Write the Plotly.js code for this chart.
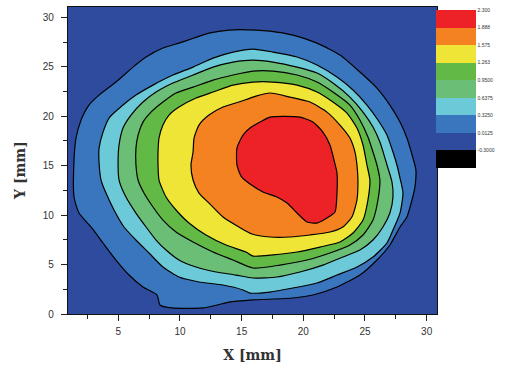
<!DOCTYPE html>
<html>
<head>
<meta charset="utf-8">
<script src="https://cdn.plot.ly/plotly-3.0.1.min.js"></script>
<style>html,body{margin:0;padding:0;background:#fff;}#chart{width:507px;height:367px;}</style>
</head>
<body>
<div id="chart"></div>
<script>
// Legend level labels (top to bottom) and band colours (bottom to top)
const levelLabels = ["2.300","1.888","1.575","1.263","0.9500","0.6375","0.3250","0.0125","-0.3000"];
const bandColors = ["#000000","#2e4b9e","#3a76bd","#6ccad8","#6bbe75","#63b946","#eee537","#f58220","#ec2227"];

// Contour boundaries (X [mm], Y [mm])
const c1x = [13.97,16.16,17.30,19.16,21.11,22.97,24.59,25.97,27.02,27.84,28.40,28.89,29.13,29.05,28.81,28.40,27.84,27.02,25.97,24.59,22.73,20.78,19.16,15.92,13.97,13.00,11.87,9.35,8.38,8.14,7.00,5.87,4.81,3.76,2.79,1.81,1.41,1.41,1.57,1.98,2.62,3.44,4.81,6.19,7.25,8.62,9.92,11.14,12.35];
const c1y = [28.72,28.72,28.62,28.21,27.40,26.19,24.47,22.85,21.13,19.41,17.80,15.78,14.56,12.84,11.53,9.81,8.80,6.98,5.46,3.94,2.73,1.92,1.62,1.42,1.21,0.91,0.61,0.61,0.91,1.92,2.73,3.94,5.46,7.18,8.80,10.21,11.83,15.57,17.80,19.62,21.13,22.14,23.46,24.97,25.99,26.90,27.40,27.91,28.41];

const c2x = [12.68,14.30,15.92,17.54,19.49,21.11,22.73,24.03,25.16,26.05,26.78,27.27,27.59,27.84,28.08,27.84,27.27,26.78,25.65,24.35,22.73,21.11,19.16,17.30,15.68,15.11,13.49,11.54,9.92,8.62,7.49,6.43,5.46,4.65,4.00,3.60,3.44,3.44,3.76,4.25,5.38,6.43,7.81,9.43,11.06];
const c2y = [25.88,26.49,26.79,26.49,25.99,25.18,23.96,22.65,21.13,19.62,18.10,16.38,15.07,13.75,12.23,10.21,8.49,7.18,5.76,4.75,3.94,3.13,2.63,2.22,2.12,2.43,2.93,3.24,3.74,4.75,6.17,7.48,8.80,10.52,12.23,13.55,15.27,16.78,18.40,19.82,21.13,22.14,23.15,24.17,24.97];

const c3x = [12.68,14.30,15.92,17.54,19.49,21.11,22.40,23.78,24.84,25.65,26.21,26.62,26.86,27.19,27.27,27.02,26.46,25.65,24.59,23.21,21.59,19.73,17.86,15.92,14.54,12.92,11.30,9.92,8.87,8.06,7.25,6.43,5.62,5.06,4.98,5.06,5.38,6.03,7.00,8.06,9.43,11.06];
const c3y = [24.97,25.48,25.68,25.48,24.97,24.37,23.36,21.94,20.42,18.91,17.39,15.77,14.76,13.35,11.83,10.21,8.80,7.48,6.47,5.76,4.95,4.25,3.74,3.64,3.94,4.25,4.75,5.46,6.47,7.48,8.80,10.21,11.83,13.55,15.07,17.09,18.81,20.12,21.44,22.45,23.36,24.17];

const c4x = [14.30,15.92,17.54,19.49,21.11,22.40,23.78,24.59,25.24,25.65,25.97,26.21,26.05,25.65,24.84,23.78,22.16,20.30,18.11,15.92,14.30,12.68,11.06,9.68,8.62,7.81,7.08,6.60,6.43,6.43,6.60,7.00,7.65,8.62,9.68,11.06,12.68];
const c4y = [24.17,24.57,24.57,24.17,23.46,22.45,21.13,19.62,17.90,16.38,15.07,13.55,11.53,9.50,7.99,6.98,6.17,5.46,4.95,4.65,5.46,6.27,7.28,8.29,9.50,10.82,12.23,13.55,15.07,16.78,18.10,19.41,20.42,21.44,22.35,22.95,23.66];

const c5x = [14.30,15.92,17.54,19.49,21.11,22.40,23.54,24.35,24.84,25.16,25.40,25.24,24.84,24.03,22.97,21.35,19.49,17.54,15.92,15.35,13.73,12.11,10.73,9.68,8.87,8.30,8.22,8.22,8.30,8.62,9.11,9.92,11.30,12.68];
const c5y = [23.15,23.46,23.46,23.15,22.45,21.44,20.32,18.81,17.09,15.07,13.55,11.53,9.50,8.19,7.28,6.77,6.27,5.97,5.86,6.27,6.98,7.99,9.20,10.52,11.83,13.55,15.07,16.38,17.80,19.11,20.12,20.93,21.84,22.45];

const c6x = [14.78,16.16,17.30,18.92,20.54,21.92,22.97,23.78,24.19,24.35,24.43,24.35,23.94,23.21,22.16,20.54,18.92,17.30,15.84,14.78,13.49,12.35,11.54,11.06,10.89,11.06,11.14,11.54,12.35,13.49];
const c6y = [21.44,22.04,22.35,21.94,21.44,20.42,19.11,17.80,16.38,15.07,13.55,11.53,9.81,8.80,8.29,7.99,7.79,7.79,8.09,8.80,9.81,11.22,12.23,13.55,15.07,16.38,17.80,19.11,20.12,20.93];

const c7x = [15.68,16.49,17.30,19.73,20.78,21.59,22.16,22.49,22.73,22.73,22.57,21.92,21.11,20.30,19.49,18.68,17.86,16.73,15.68,14.95,14.62,14.62,15.11];
const c7y = [18.81,19.41,19.92,19.92,19.41,18.40,17.09,15.57,14.26,12.23,10.31,9.71,9.20,9.30,10.21,11.22,11.83,12.34,13.14,13.95,15.07,16.78,18.10];

const contours = [[c1x,c1y],[c2x,c2y],[c3x,c3y],[c4x,c4y],[c5x,c5y],[c6x,c6y],[c7x,c7y]];

const traces = contours.map((c, i) => ({
  type: 'scatter', mode: 'lines',
  x: c[0].concat([c[0][0]]), y: c[1].concat([c[1][0]]),
  fill: 'toself', fillcolor: bandColors[i + 2],
  line: {color: '#000000', width: 1.2, shape: 'spline', smoothing: 0.6},
  hoverinfo: 'skip', showlegend: false
}));

// Discrete legend (colour bar) in index space, one band per colour
const nb = bandColors.length;
const cs = [];
bandColors.forEach((c, k) => { cs.push([k / nb, c]); cs.push([(k + 1) / nb, c]); });
traces.push({
  type: 'heatmap', x: [-100], y: [-100], z: [[0]], zmin: 0, zmax: nb,
  colorscale: cs, hoverinfo: 'skip',
  colorbar: {
    thickness: 40, thicknessmode: 'pixels', len: 158, lenmode: 'pixels',
    x: 0.998, xanchor: 'left', xpad: 0, y: 0.9902, yanchor: 'top', ypad: 0,
    outlinewidth: 0, ticks: '',
    tickvals: levelLabels.map((_, i) => nb - i), ticktext: levelLabels,
    tickfont: {family: 'Liberation Sans', size: 5, color: '#333'}
  }
});

const axisFont = {family: 'Liberation Sans', size: 10, color: '#333'};
const titleFont = {family: 'DejaVu Serif', size: 14, color: '#333', weight: 'bold'};

const layout = {
  width: 507, height: 367,
  margin: {l: 68, r: 70, t: 7, b: 53},
  paper_bgcolor: '#ffffff', plot_bgcolor: bandColors[1],
  showlegend: false,
  xaxis: {
    range: [0.92, 30.84], tickmode: 'linear', tick0: 0, dtick: 5,
    ticks: 'outside', ticklen: 6, tickcolor: '#222', tickwidth: 1,
    minor: {dtick: 2.5, ticks: 'outside', ticklen: 4, tickcolor: '#222'},
    showline: true, mirror: true, linecolor: '#111', linewidth: 1.2,
    showgrid: false, zeroline: false, tickfont: axisFont, ticklabelstandoff: 2,
    title: {text: 'X [mm]', font: titleFont, standoff: 14}
  },
  yaxis: {
    range: [0, 31.05], tickmode: 'linear', tick0: 0, dtick: 5,
    ticks: 'outside', ticklen: 6, tickcolor: '#222', tickwidth: 1,
    minor: {dtick: 2.5, ticks: 'outside', ticklen: 4, tickcolor: '#222'},
    showline: true, mirror: true, linecolor: '#111', linewidth: 1.2,
    showgrid: false, zeroline: false, tickfont: axisFont, ticklabelstandoff: 5
  },
  annotations: [{
    text: 'Y [mm]', xref: 'paper', yref: 'paper', x: -0.130, y: 0.466,
    xanchor: 'center', yanchor: 'middle', textangle: -90, showarrow: false,
    font: titleFont
  }]
};

Plotly.newPlot('chart', traces, layout, {staticPlot: true, displayModeBar: false});
</script>
</body>
</html>
